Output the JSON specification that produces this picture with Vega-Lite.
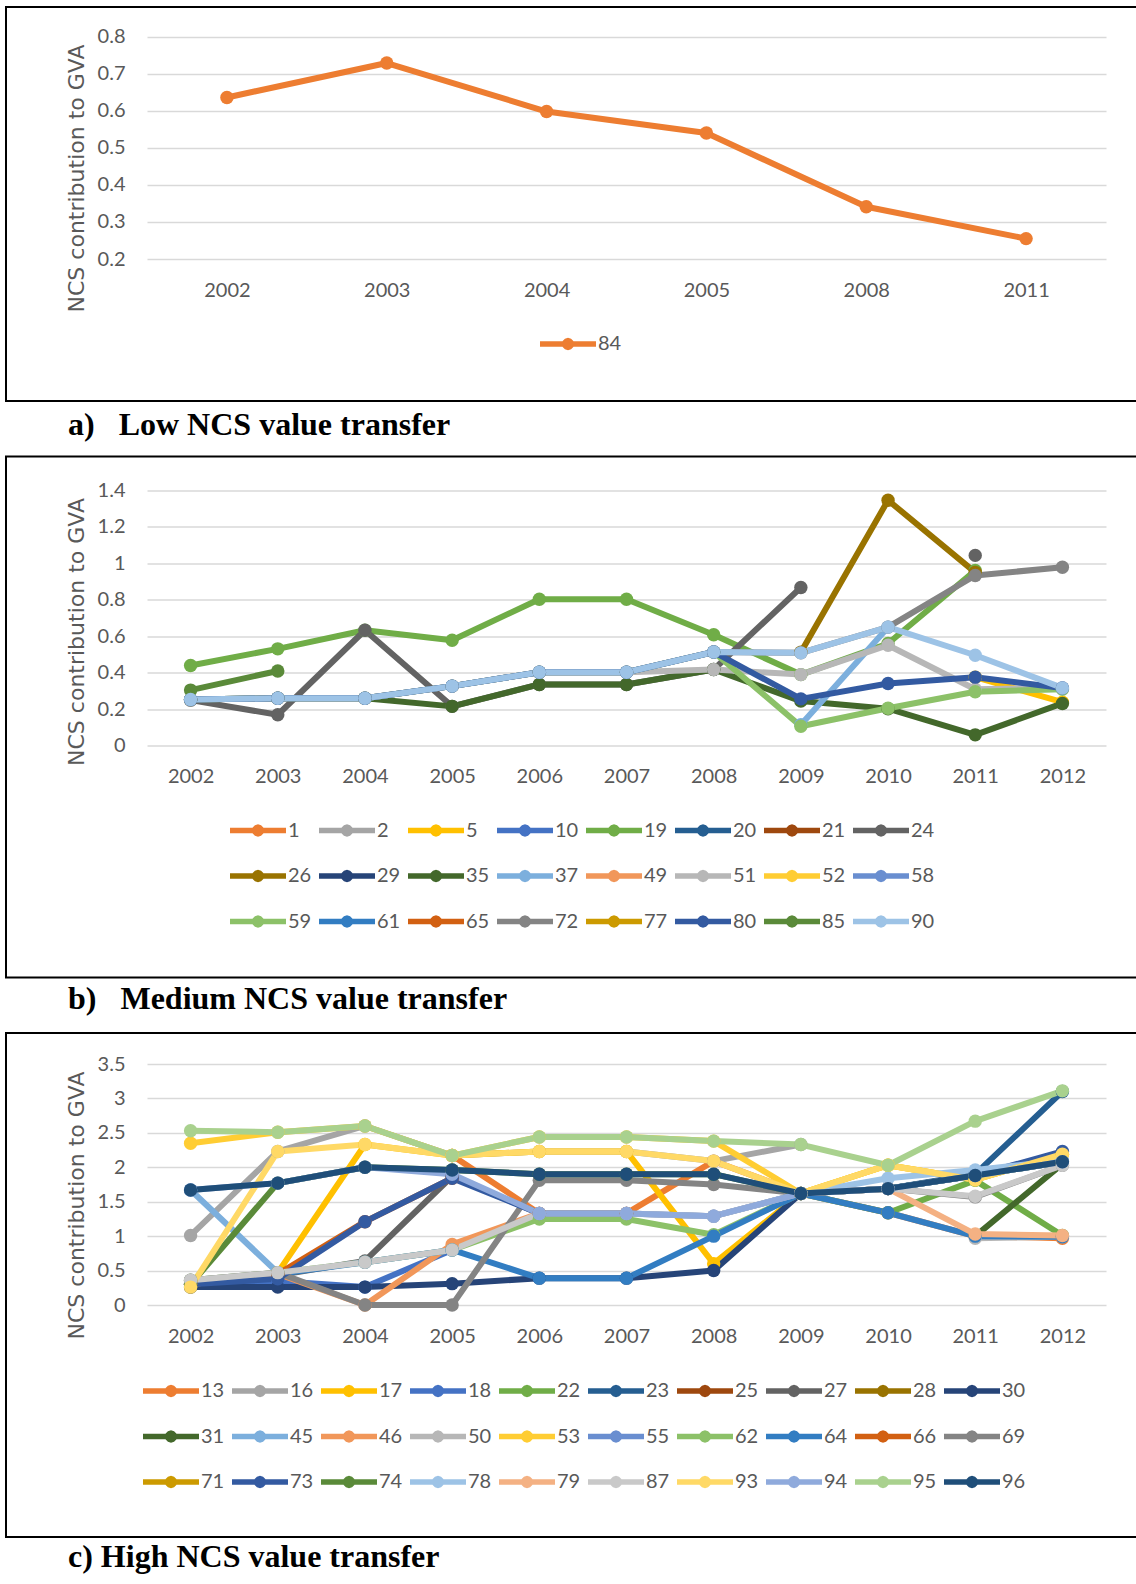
{
  "$schema": "https://vega.github.io/schema/vega-lite/v6.json",
  "padding": {"left": 5, "top": 6, "right": 0, "bottom": 0},
  "background": "white",
  "spacing": 55.5,
  "bounds": "flush",
  "resolve": {"scale": {"color": "independent", "stroke": "independent", "x": "independent", "y": "independent"}, "legend": {"color": "independent", "stroke": "independent"}},
  "datasets": {
    "a": [
      {"s":"84","year":"2002","v":0.636},{"s":"84","year":"2003","v":0.729},{"s":"84","year":"2004","v":0.598},
      {"s":"84","year":"2005","v":0.54},{"s":"84","year":"2008","v":0.341},{"s":"84","year":"2011","v":0.255}
    ],
    "b": [
      {"s":"5","year":"2011","v":0.376},{"s":"5","year":"2012","v":0.239},
      {"s":"19","year":"2002","v":0.44},{"s":"19","year":"2003","v":0.531},{"s":"19","year":"2004","v":0.633},{"s":"19","year":"2005","v":0.578},{"s":"19","year":"2006","v":0.803},{"s":"19","year":"2007","v":0.803},{"s":"19","year":"2008","v":0.608},{"s":"19","year":"2009","v":0.39},{"s":"19","year":"2010","v":0.56},{"s":"19","year":"2011","v":0.96},
      {"s":"24","year":"2002","v":0.25},{"s":"24","year":"2003","v":0.17},{"s":"24","year":"2004","v":0.633},{"s":"24","year":"2005","v":0.216},{"s":"24","year":"2006","v":0.336},{"s":"24","year":"2007","v":0.336},{"s":"24","year":"2008","v":0.418},{"s":"24","year":"2009","v":0.867},{"s":"24","year":"2010","v":null},{"s":"24","year":"2011","v":1.043},
      {"s":"26","year":"2009","v":0.512},{"s":"26","year":"2010","v":1.345},{"s":"26","year":"2011","v":0.95},
      {"s":"35","year":"2002","v":0.254},{"s":"35","year":"2003","v":0.26},{"s":"35","year":"2004","v":0.26},{"s":"35","year":"2005","v":0.216},{"s":"35","year":"2006","v":0.336},{"s":"35","year":"2007","v":0.336},{"s":"35","year":"2008","v":0.418},{"s":"35","year":"2009","v":0.245},{"s":"35","year":"2010","v":0.203},{"s":"35","year":"2011","v":0.06},{"s":"35","year":"2012","v":0.232},
      {"s":"37","year":"2009","v":0.115},{"s":"37","year":"2010","v":0.65},
      {"s":"51","year":"2002","v":0.254},{"s":"51","year":"2003","v":0.26},{"s":"51","year":"2004","v":0.26},{"s":"51","year":"2005","v":0.327},{"s":"51","year":"2006","v":0.403},{"s":"51","year":"2007","v":0.403},{"s":"51","year":"2008","v":0.418},{"s":"51","year":"2009","v":0.39},{"s":"51","year":"2010","v":0.551},{"s":"51","year":"2011","v":0.31},{"s":"51","year":"2012","v":0.317},
      {"s":"59","year":"2002","v":0.254},{"s":"59","year":"2003","v":0.26},{"s":"59","year":"2004","v":0.26},{"s":"59","year":"2005","v":0.327},{"s":"59","year":"2006","v":0.403},{"s":"59","year":"2007","v":0.403},{"s":"59","year":"2008","v":0.514},{"s":"59","year":"2009","v":0.107},{"s":"59","year":"2010","v":0.206},{"s":"59","year":"2011","v":0.296},{"s":"59","year":"2012","v":0.31},
      {"s":"72","year":"2002","v":0.254},{"s":"72","year":"2003","v":0.26},{"s":"72","year":"2004","v":0.26},{"s":"72","year":"2005","v":0.327},{"s":"72","year":"2006","v":0.403},{"s":"72","year":"2007","v":0.403},{"s":"72","year":"2008","v":0.514},{"s":"72","year":"2009","v":0.509},{"s":"72","year":"2010","v":0.65},{"s":"72","year":"2011","v":0.933},{"s":"72","year":"2012","v":0.978},
      {"s":"80","year":"2002","v":0.254},{"s":"80","year":"2003","v":0.26},{"s":"80","year":"2004","v":0.26},{"s":"80","year":"2005","v":0.327},{"s":"80","year":"2006","v":0.403},{"s":"80","year":"2007","v":0.403},{"s":"80","year":"2008","v":0.514},{"s":"80","year":"2009","v":0.257},{"s":"80","year":"2010","v":0.341},{"s":"80","year":"2011","v":0.376},{"s":"80","year":"2012","v":0.317},
      {"s":"85","year":"2002","v":0.305},{"s":"85","year":"2003","v":0.41},
      {"s":"90","year":"2002","v":0.254},{"s":"90","year":"2003","v":0.26},{"s":"90","year":"2004","v":0.26},{"s":"90","year":"2005","v":0.327},{"s":"90","year":"2006","v":0.403},{"s":"90","year":"2007","v":0.403},{"s":"90","year":"2008","v":0.514},{"s":"90","year":"2009","v":0.509},{"s":"90","year":"2010","v":0.65},{"s":"90","year":"2011","v":0.496},{"s":"90","year":"2012","v":0.317}
    ],
    "c": [
      {"s":"13","year":"2005","v":2.17},{"s":"13","year":"2006","v":1.33},{"s":"13","year":"2007","v":1.33},{"s":"13","year":"2008","v":2.09},{"s":"13","year":"2009","v":1.62},{"s":"13","year":"2010","v":1.34},{"s":"13","year":"2011","v":1.0},{"s":"13","year":"2012","v":0.97},
      {"s":"16","year":"2002","v":1.01},{"s":"16","year":"2003","v":2.23},{"s":"16","year":"2004","v":2.6},{"s":"16","year":"2005","v":2.17},{"s":"16","year":"2006","v":2.23},{"s":"16","year":"2007","v":2.23},{"s":"16","year":"2008","v":2.09},{"s":"16","year":"2009","v":2.33},
      {"s":"17","year":"2002","v":0.26},{"s":"17","year":"2003","v":0.47},{"s":"17","year":"2004","v":2.33},{"s":"17","year":"2005","v":2.17},{"s":"17","year":"2006","v":2.23},{"s":"17","year":"2007","v":2.23},{"s":"17","year":"2008","v":0.6},{"s":"17","year":"2009","v":1.62},{"s":"17","year":"2010","v":2.03},{"s":"17","year":"2011","v":1.82},{"s":"17","year":"2012","v":2.19},
      {"s":"18","year":"2002","v":0.3},{"s":"18","year":"2003","v":0.35},{"s":"18","year":"2004","v":0.26},{"s":"18","year":"2005","v":0.8},
      {"s":"22","year":"2009","v":1.62},{"s":"22","year":"2010","v":1.34},{"s":"22","year":"2011","v":1.81},{"s":"22","year":"2012","v":1.01},
      {"s":"23","year":"2010","v":1.69},{"s":"23","year":"2011","v":1.9},{"s":"23","year":"2012","v":3.1},
      {"s":"27","year":"2002","v":0.35},{"s":"27","year":"2003","v":0.43},{"s":"27","year":"2004","v":0.64},{"s":"27","year":"2005","v":1.87},{"s":"27","year":"2006","v":1.33},{"s":"27","year":"2007","v":1.33},
      {"s":"30","year":"2002","v":0.26},{"s":"30","year":"2003","v":0.26},{"s":"30","year":"2004","v":0.26},{"s":"30","year":"2005","v":0.31},{"s":"30","year":"2006","v":0.39},{"s":"30","year":"2007","v":0.39},{"s":"30","year":"2008","v":0.5},{"s":"30","year":"2009","v":1.62},{"s":"30","year":"2010","v":1.69},{"s":"30","year":"2011","v":1.88},{"s":"30","year":"2012","v":2.08},
      {"s":"31","year":"2011","v":1.0},{"s":"31","year":"2012","v":2.05},
      {"s":"45","year":"2002","v":1.67},{"s":"45","year":"2003","v":0.47},
      {"s":"46","year":"2002","v":0.3},{"s":"46","year":"2003","v":0.45},{"s":"46","year":"2004","v":0.0},{"s":"46","year":"2005","v":0.88},{"s":"46","year":"2006","v":1.33},{"s":"46","year":"2007","v":1.33},
      {"s":"50","year":"2011","v":0.97},{"s":"50","year":"2012","v":0.99},
      {"s":"53","year":"2002","v":2.35},{"s":"53","year":"2003","v":2.51},{"s":"53","year":"2004","v":2.6},{"s":"53","year":"2005","v":2.17},{"s":"53","year":"2006","v":2.44},{"s":"53","year":"2007","v":2.44},{"s":"53","year":"2008","v":2.38},{"s":"53","year":"2009","v":1.62},{"s":"53","year":"2010","v":2.03},{"s":"53","year":"2011","v":1.82},{"s":"53","year":"2012","v":2.19},
      {"s":"62","year":"2002","v":0.36},{"s":"62","year":"2003","v":0.47},{"s":"62","year":"2004","v":0.62},{"s":"62","year":"2005","v":0.8},{"s":"62","year":"2006","v":1.25},{"s":"62","year":"2007","v":1.25},{"s":"62","year":"2008","v":1.02},{"s":"62","year":"2009","v":1.62},
      {"s":"64","year":"2003","v":0.45},{"s":"64","year":"2004","v":0.62},{"s":"64","year":"2005","v":0.8},{"s":"64","year":"2006","v":0.39},{"s":"64","year":"2007","v":0.39},{"s":"64","year":"2008","v":1.0},{"s":"64","year":"2009","v":1.62},{"s":"64","year":"2010","v":1.34},{"s":"64","year":"2011","v":1.0},{"s":"64","year":"2012","v":0.99},
      {"s":"66","year":"2002","v":0.3},{"s":"66","year":"2003","v":0.45},{"s":"66","year":"2004","v":1.21},{"s":"66","year":"2005","v":1.84},
      {"s":"69","year":"2002","v":0.36},{"s":"69","year":"2003","v":0.47},{"s":"69","year":"2004","v":0.0},{"s":"69","year":"2005","v":0.0},{"s":"69","year":"2006","v":1.81},{"s":"69","year":"2007","v":1.81},{"s":"69","year":"2008","v":1.75},{"s":"69","year":"2009","v":1.62},{"s":"69","year":"2010","v":1.69},{"s":"69","year":"2011","v":1.57},{"s":"69","year":"2012","v":2.03},
      {"s":"73","year":"2002","v":0.3},{"s":"73","year":"2003","v":0.38},{"s":"73","year":"2004","v":1.21},{"s":"73","year":"2005","v":1.84},{"s":"73","year":"2006","v":1.33},{"s":"73","year":"2007","v":1.33},{"s":"73","year":"2008","v":1.29},{"s":"73","year":"2009","v":1.62},{"s":"73","year":"2010","v":1.69},{"s":"73","year":"2011","v":1.88},{"s":"73","year":"2012","v":2.23},
      {"s":"74","year":"2002","v":0.3},{"s":"74","year":"2003","v":1.77},{"s":"74","year":"2004","v":2.0},{"s":"74","year":"2005","v":1.96},{"s":"74","year":"2006","v":1.9},{"s":"74","year":"2007","v":1.9},{"s":"74","year":"2008","v":1.9},{"s":"74","year":"2009","v":1.62},{"s":"74","year":"2010","v":1.69},{"s":"74","year":"2011","v":1.88},{"s":"74","year":"2012","v":2.08},
      {"s":"78","year":"2009","v":1.62},{"s":"78","year":"2010","v":1.84},{"s":"78","year":"2011","v":1.96},{"s":"78","year":"2012","v":2.1},
      {"s":"79","year":"2009","v":1.62},{"s":"79","year":"2010","v":1.69},{"s":"79","year":"2011","v":1.03},{"s":"79","year":"2012","v":1.01},
      {"s":"87","year":"2002","v":0.36},{"s":"87","year":"2003","v":0.47},{"s":"87","year":"2004","v":0.62},{"s":"87","year":"2005","v":0.8},{"s":"87","year":"2006","v":1.33},{"s":"87","year":"2007","v":1.33},{"s":"87","year":"2008","v":1.29},{"s":"87","year":"2009","v":1.62},{"s":"87","year":"2010","v":1.69},{"s":"87","year":"2011","v":1.58},{"s":"87","year":"2012","v":2.03},
      {"s":"93","year":"2002","v":0.26},{"s":"93","year":"2003","v":2.23},{"s":"93","year":"2004","v":2.33},{"s":"93","year":"2005","v":2.17},{"s":"93","year":"2006","v":2.23},{"s":"93","year":"2007","v":2.23},{"s":"93","year":"2008","v":2.09},{"s":"93","year":"2009","v":1.62},{"s":"93","year":"2010","v":2.03},{"s":"93","year":"2011","v":1.82},{"s":"93","year":"2012","v":2.19},
      {"s":"94","year":"2002","v":1.67},{"s":"94","year":"2003","v":1.77},{"s":"94","year":"2004","v":2.0},{"s":"94","year":"2005","v":1.9},{"s":"94","year":"2006","v":1.33},{"s":"94","year":"2007","v":1.33},{"s":"94","year":"2008","v":1.29},{"s":"94","year":"2009","v":1.62},{"s":"94","year":"2010","v":1.69},{"s":"94","year":"2011","v":1.88},{"s":"94","year":"2012","v":2.08},
      {"s":"95","year":"2002","v":2.53},{"s":"95","year":"2003","v":2.51},{"s":"95","year":"2004","v":2.6},{"s":"95","year":"2005","v":2.17},{"s":"95","year":"2006","v":2.44},{"s":"95","year":"2007","v":2.44},{"s":"95","year":"2008","v":2.38},{"s":"95","year":"2009","v":2.33},{"s":"95","year":"2010","v":2.03},{"s":"95","year":"2011","v":2.67},{"s":"95","year":"2012","v":3.11},
      {"s":"96","year":"2002","v":1.67},{"s":"96","year":"2003","v":1.77},{"s":"96","year":"2004","v":2.0},{"s":"96","year":"2005","v":1.96},{"s":"96","year":"2006","v":1.9},{"s":"96","year":"2007","v":1.9},{"s":"96","year":"2008","v":1.9},{"s":"96","year":"2009","v":1.62},{"s":"96","year":"2010","v":1.69},{"s":"96","year":"2011","v":1.88},{"s":"96","year":"2012","v":2.08}
    ]
  },
  "vconcat": [
    {
      "width": 1134, "height": 394,
      "data": {"name": "a"},
      "title": {"text": "a)\u00a0\u00a0\u00a0Low NCS value transfer", "orient": "bottom", "anchor": "start", "frame": "group", "offset": 34, "dx": 62, "baseline": "alphabetic", "font": "Liberation Serif", "fontSize": 32, "fontWeight": "bold", "color": "black"},
      "encoding": {
        "x": {"field": "year", "type": "ordinal", "scale": {"type": "point", "range": [141, 1100], "padding": 0.5}, "axis": {"title": null, "offset": -142}},
        "y": {"field": "v", "type": "quantitative", "scale": {"domain": [0.2, 0.8], "range": [252, 29.7], "nice": false, "zero": false},
              "axis": {"title": "NCS contribution to GVA", "values": [0.2,0.3,0.4,0.5,0.6,0.7,0.8], "format": "~g", "offset": -141, "titleX": -64, "titleY": 171}}
      },
      "layer": [
        {"mark": {"type": "line", "strokeWidth": 6, "strokeJoin": "round", "strokeCap": "round", "invalid": "break-paths-filter-domains"},
         "encoding": {"stroke": {"field": "s", "type": "nominal", "scale": {"domain": ["84"], "range": ["#ED7D31"]},
           "legend": {"orient": "none", "legendX": 534, "legendY": 323, "title": null, "columns": 1, "direction": "horizontal"}}}},
        {"mark": {"type": "point", "filled": true, "size": 180, "opacity": 1},
         "encoding": {"color": {"field": "s", "type": "nominal", "scale": {"domain": ["84"], "range": ["#ED7D31"]},
           "legend": {"orient": "none", "legendX": 534, "legendY": 323, "title": null, "columns": 1, "direction": "horizontal"}}}}
      ]
    },
    {
      "width": 1134, "height": 521,
      "data": {"name": "b"},
      "title": {"text": "b)\u00a0\u00a0\u00a0Medium NCS value transfer", "orient": "bottom", "anchor": "start", "frame": "group", "offset": 31, "dx": 62, "baseline": "alphabetic", "font": "Liberation Serif", "fontSize": 32, "fontWeight": "bold", "color": "black"},
      "encoding": {
        "x": {"field": "year", "type": "ordinal", "scale": {"type": "point", "range": [141, 1100], "padding": 0.5}, "axis": {"title": null, "offset": -231.7}},
        "y": {"field": "v", "type": "quantitative", "scale": {"domain": [0, 1.4], "range": [289.3, 33.7], "nice": false, "zero": false},
              "axis": {"title": "NCS contribution to GVA", "values": [0,0.2,0.4,0.6,0.8,1,1.2,1.4], "format": "~g", "offset": -141, "titleX": -64, "titleY": 175}}
      },
      "layer": [
        {"mark": {"type": "line", "strokeWidth": 6, "strokeJoin": "round", "strokeCap": "round", "invalid": "break-paths-filter-domains"},
         "encoding": {"stroke": {"field": "s", "type": "nominal",
           "scale": {"domain": ["1","2","5","10","19","20","21","24","26","29","35","37","49","51","52","58","59","61","65","72","77","80","85","90"],
                     "range": ["#ED7D31","#A5A5A5","#FFC000","#4472C4","#70AD47","#255E91","#9E480E","#636363","#997300","#264478","#43682B","#7CAFDD","#F1975A","#B7B7B7","#FFCD33","#698ED0","#8CC168","#327DC2","#D26012","#848484","#CC9A00","#335AA1","#5A8A39","#9DC3E6"]},
           "legend": {"orient": "none", "legendX": 224, "legendY": 360, "title": null, "columns": 8, "direction": "horizontal"}}}},
        {"mark": {"type": "point", "filled": true, "size": 180, "opacity": 1},
         "encoding": {"color": {"field": "s", "type": "nominal",
           "scale": {"domain": ["1","2","5","10","19","20","21","24","26","29","35","37","49","51","52","58","59","61","65","72","77","80","85","90"],
                     "range": ["#ED7D31","#A5A5A5","#FFC000","#4472C4","#70AD47","#255E91","#9E480E","#636363","#997300","#264478","#43682B","#7CAFDD","#F1975A","#B7B7B7","#FFCD33","#698ED0","#8CC168","#327DC2","#D26012","#848484","#CC9A00","#335AA1","#5A8A39","#9DC3E6"]},
           "legend": {"orient": "none", "legendX": 224, "legendY": 360, "title": null, "columns": 8, "direction": "horizontal"}}}}
      ]
    },
    {
      "width": 1134, "height": 504,
      "data": {"name": "c"},
      "title": {"text": "c) High NCS value transfer", "orient": "bottom", "anchor": "start", "frame": "group", "offset": 30, "dx": 62, "baseline": "alphabetic", "font": "Liberation Serif", "fontSize": 32, "fontWeight": "bold", "color": "black"},
      "encoding": {
        "x": {"field": "year", "type": "ordinal", "scale": {"type": "point", "range": [141, 1100], "padding": 0.5}, "axis": {"title": null, "offset": -232}},
        "y": {"field": "v", "type": "quantitative", "scale": {"domain": [0, 3.5], "range": [272, 31], "nice": false, "zero": false},
              "axis": {"title": "NCS contribution to GVA", "values": [0,0.5,1,1.5,2,2.5,3,3.5], "format": "~g", "offset": -141, "titleX": -64, "titleY": 172}}
      },
      "layer": [
        {"mark": {"type": "line", "strokeWidth": 6, "strokeJoin": "round", "strokeCap": "round", "invalid": "break-paths-filter-domains"},
         "encoding": {"stroke": {"field": "s", "type": "nominal",
           "scale": {"domain": ["13","16","17","18","22","23","25","27","28","30","31","45","46","50","53","55","62","64","66","69","71","73","74","78","79","87","93","94","95","96"],
                     "range": ["#ED7D31","#A5A5A5","#FFC000","#4472C4","#70AD47","#255E91","#9E480E","#636363","#997300","#264478","#43682B","#7CAFDD","#F1975A","#B7B7B7","#FFCD33","#698ED0","#8CC168","#327DC2","#D26012","#848484","#CC9A00","#335AA1","#5A8A39","#9DC3E6","#F4B183","#C9C9C9","#FFD966","#8FAADC","#A9D18E","#1F4E79"]},
           "legend": {"orient": "none", "legendX": 137, "legendY": 344, "title": null, "columns": 10, "direction": "horizontal"}}}},
        {"mark": {"type": "point", "filled": true, "size": 180, "opacity": 1},
         "encoding": {"color": {"field": "s", "type": "nominal",
           "scale": {"domain": ["13","16","17","18","22","23","25","27","28","30","31","45","46","50","53","55","62","64","66","69","71","73","74","78","79","87","93","94","95","96"],
                     "range": ["#ED7D31","#A5A5A5","#FFC000","#4472C4","#70AD47","#255E91","#9E480E","#636363","#997300","#264478","#43682B","#7CAFDD","#F1975A","#B7B7B7","#FFCD33","#698ED0","#8CC168","#327DC2","#D26012","#848484","#CC9A00","#335AA1","#5A8A39","#9DC3E6","#F4B183","#C9C9C9","#FFD966","#8FAADC","#A9D18E","#1F4E79"]},
           "legend": {"orient": "none", "legendX": 137, "legendY": 344, "title": null, "columns": 10, "direction": "horizontal"}}}}
      ]
    }
  ],
  "config": {
    "view": {"stroke": "black", "strokeWidth": 2},
    "axis": {"domain": false, "ticks": false, "tickSize": 0, "labelFont": "Lato", "labelFontSize": 20, "labelColor": "#595959",
             "titleFont": "DejaVu Sans", "titleFontSize": 22, "titleFontWeight": "normal", "titleColor": "#595959",
             "gridColor": "#D9D9D9", "gridWidth": 1.5},
    "axisX": {"labelAngle": 0, "labelPadding": 31, "labelBaseline": "middle", "grid": false},
    "axisY": {"labelPadding": 22, "grid": true, "titleAngle": -90, "titleBaseline": "alphabetic", "titleAlign": "center"},
    "legend": {"symbolType": "M-1,-0.2L3,-0.2L3,0.2L-1,0.2Z M1.44,0L1.381,0.22L1.22,0.381L1,0.44L0.78,0.381L0.619,0.22L0.56,0L0.619,-0.22L0.78,-0.381L1,-0.44L1.22,-0.381L1.381,-0.22Z",
               "symbolSize": 784, "symbolStrokeWidth": 0, "symbolOpacity": 1, "labelOffset": 30,
               "labelFont": "Lato", "labelFontSize": 20, "labelColor": "#595959",
               "gridAlign": "all", "columnPadding": 7, "rowPadding": 21.5}
  }
}
